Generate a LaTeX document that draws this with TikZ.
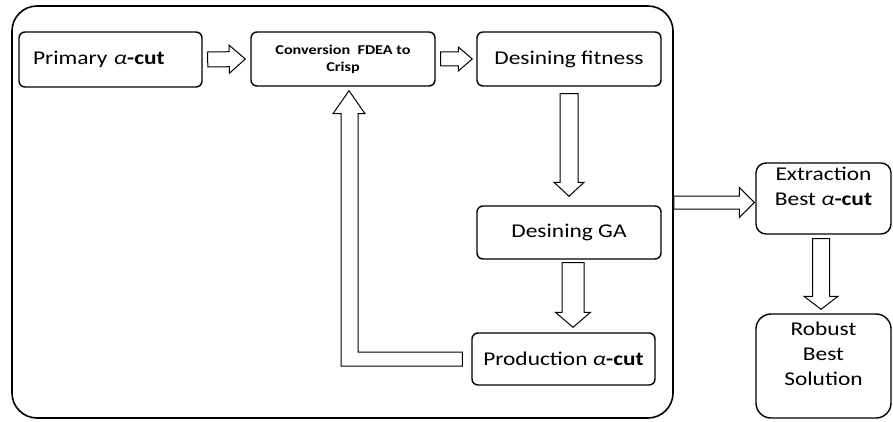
\documentclass[tikz,border=0pt]{standalone}
\usepackage{fontspec}
\setmainfont{Carlito}[FakeStretch=1.2]
\usetikzlibrary{calc}
\newcommand{\acut}{\textit{α}\textbf{-cut}}
\begin{document}
\begin{tikzpicture}
[x=1pt,y=1pt,
 boxdecorate/.style={draw,line width=1.4pt,rounded corners=6pt,inner sep=0pt,%
  align=center,font=\fontsize{19.5}{25}\selectfont},
 arrowdecorate/.style n args={3}{draw,line width=1pt,fill=white,%
  to path={(\tikztostart) coordinate (bas) (\tikztotarget) coordinate (bat)
   ($(bat)!#3!(bas)$) coordinate (bah)
   ($(bas)!#1!90:(bat)$) -- ($(bah)!#1!90:(bat)$) -- ($(bah)!#2!90:(bat)$)
   -- (bat) -- ($(bah)!#2!-90:(bat)$) -- ($(bah)!#1!-90:(bat)$)
   -- ($(bas)!#1!-90:(bat)$) -- cycle}}]
\useasboundingbox (0,0) rectangle (893,421);
%% frame and boxes
\node (frame) at (342.5,209) [draw,line width=1.6pt,rounded corners=25pt,%
  minimum width=661pt,minimum height=412pt] {};
\node (prim) at (110.5,361.5) [boxdecorate,minimum width=183pt,minimum height=55pt,%
  text width=155pt,align=left] {Primary \acut};
\node (conv) at (343,362) [boxdecorate,minimum width=184pt,minimum height=54pt,%
  font=\fontsize{13.5}{17}\selectfont\bfseries] {Conversion\ \ FDEA to\\Crisp};
\node (fit) at (569,362) [boxdecorate,minimum width=184pt,minimum height=54pt] {Desining fitness};
\node (ga) at (569,188.5) [boxdecorate,minimum width=184pt,minimum height=53pt] {Desining GA};
\node (prod) at (563.5,62) [boxdecorate,minimum width=183pt,minimum height=52pt] {Production \acut};
\node (ext) at (823.5,222.5) [boxdecorate,rounded corners=10pt,minimum width=135pt,%
  minimum height=71pt] {Extraction\\Best \acut\\\mbox{}};
\node (rob) at (823.5,55) [boxdecorate,rounded corners=15pt,minimum width=135pt,%
  minimum height=104pt] {Robust\\Best\\Solution\\\mbox{}};
%% block arrows
\path [arrowdecorate={7.5pt}{14pt}{16pt}] ([xshift=5pt]prim.east) to ([xshift=-5pt]conv.west);
\path [arrowdecorate={7pt}{12pt}{14pt}] ([xshift=5pt]conv.east) to ([xshift=-4pt]fit.west);
\path [arrowdecorate={9pt}{15pt}{14pt}] ([yshift=-7pt]fit.south) to ([yshift=9pt]ga.north);
\path [arrowdecorate={11pt}{17.5pt}{15pt}] ([shift={(4pt,-3pt)}]ga.south)
  to ($(ga.south |- prod.north)+(4pt,5pt)$);
\path [arrowdecorate={6.5pt}{15pt}{15pt}] ($(frame.east |- ext.west)+(0,-4pt)$)
  to ($(ext.west)+(-1pt,-4pt)$);
\path [arrowdecorate={8.5pt}{17pt}{13pt}] ([shift={(-2.5pt,-4pt)}]ext.south)
  to ($(ext.south |- rob.north)+(-2.5pt,4pt)$);
%% feedback arrow
\draw [line width=1pt,fill=white] let \p1=(prod.west), \p2=(conv.south) in
  (\x1-9pt,\y1+7pt) -- (\x2+15pt,\y1+7pt) -- (\x2+15pt,\y2-27pt) -- (\x2+22pt,\y2-27pt)
  -- (\x2+6pt,\y2-4pt) -- (\x2-10pt,\y2-27pt) -- (\x2-2pt,\y2-27pt) -- (\x2-2pt,\y1-7pt)
  -- (\x1-9pt,\y1-7pt) -- cycle;
\end{tikzpicture}
\end{document}
